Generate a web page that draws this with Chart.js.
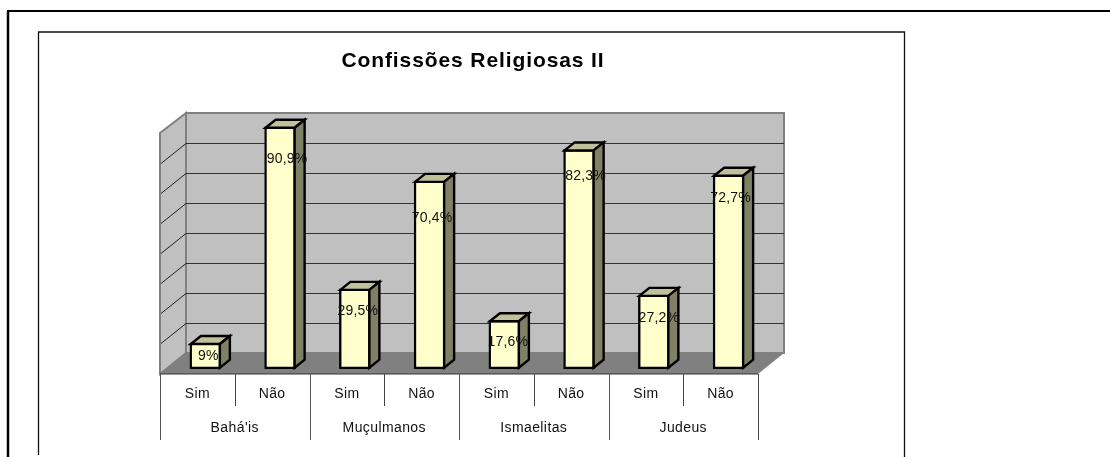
<!DOCTYPE html>
<html lang="pt">
<head>
<meta charset="utf-8">
<title>Confissões Religiosas II</title>
<script src="https://cdn.jsdelivr.net/npm/chart.js@4"></script>
<style>
    html, body { margin: 0; padding: 0; background: #fff; }
    #wrap { position: relative; width: 1110px; height: 457px; overflow: hidden; }
</style>
</head>
<body>
<div id="wrap"><canvas id="religioesChart" width="1110" height="457"></canvas></div>
<script>
// Dados do gráfico
const tituloGrafico = 'Confissões Religiosas II';
const grupos = ["Bahá'is", 'Muçulmanos', 'Ismaelitas', 'Judeus'];
const respostas = ['Sim', 'Não', 'Sim', 'Não', 'Sim', 'Não', 'Sim', 'Não'];
const percentuais = [9, 90.9, 29.5, 70.4, 17.6, 82.3, 27.2, 72.7];
const rotulos = ['9%', '90,9%', '29,5%', '70,4%', '17,6%', '82,3%', '27,2%', '72,7%'];
const linhasParede = [0, 1, 2, 3, 4, 5, 6, 7, 8];

// Estilo e posição (não são dados)
const passoParede = 11.36;      // % por intervalo da parede
const barraProf = { x: 10, y: 8 };
const paredeProf = { x: 26, y: 21 };
const rotuloDesvio = [[3, 13], [7, 32], [3, 22], [2.5, 37], [3.5, 22], [6.5, 27], [5, 23], [2, 23]];
const FONTE = '"Liberation Sans", Arial, sans-serif';

function linha(ctx, x1, y1, x2, y2, cor, largura) {
    ctx.strokeStyle = cor;
    ctx.lineWidth = largura;
    ctx.beginPath();
    ctx.moveTo(x1, y1);
    ctx.lineTo(x2, y2);
    ctx.stroke();
}

function poligono(ctx, pontos, fundo, cor, largura) {
    ctx.beginPath();
    pontos.forEach((p, i) => i ? ctx.lineTo(p[0], p[1]) : ctx.moveTo(p[0], p[1]));
    ctx.closePath();
    ctx.fillStyle = fundo;
    ctx.fill();
    if (cor) {
        ctx.strokeStyle = cor;
        ctx.lineWidth = largura;
        ctx.lineJoin = 'miter';
        ctx.stroke();
    }
}

function texto(ctx, str, x, y, fonte, espaco, cor) {
    ctx.font = fonte;
    ctx.letterSpacing = espaco + 'px';
    ctx.fillStyle = cor;
    ctx.textAlign = 'center';
    ctx.textBaseline = 'middle';
    ctx.fillText(str, x, y);
    ctx.letterSpacing = '0px';
}

// Molduras, título, paredes e chão
const cenario = {
    id: 'cenario',
    beforeDatasetsDraw(chart) {
        const { ctx, scales: { x, y } } = chart;
        ctx.save();
        // moldura exterior
        linha(ctx, 8, 11, 8, 457, '#000', 2.5);
        linha(ctx, 7, 11, 1110, 11, '#000', 2);
        // moldura do gráfico
        ctx.strokeStyle = '#111';
        ctx.lineWidth = 1.3;
        ctx.beginPath();
        ctx.moveTo(38.5, 455);
        ctx.lineTo(38.5, 32);
        ctx.lineTo(904.5, 32);
        ctx.lineTo(904.5, 457);
        ctx.stroke();

        texto(ctx, tituloGrafico, 473, 61, 'bold 21px ' + FONTE, 0.9, '#000');

        const zero = y.getPixelForValue(0);
        const esq = x.left - 8;
        const dir = x.right - 8;
        const base = Math.round(zero + 7.3);
        const fundoBase = base - paredeProf.y;
        const paredeY = k => Math.round(zero - 13.7 - (y.getPixelForValue(0) - y.getPixelForValue(k * passoParede)));
        const topo = paredeY(linhasParede[8]);

        // parede de fundo e parede lateral
        poligono(ctx, [[esq + paredeProf.x, topo], [dir + paredeProf.x, topo], [dir + paredeProf.x, fundoBase], [esq + paredeProf.x, fundoBase]], '#c0c0c0', '#808080', 2);
        poligono(ctx, [[esq, topo + 20], [esq + paredeProf.x, topo], [esq + paredeProf.x, fundoBase], [esq, base]], '#c0c0c0', '#808080', 2);

        // linhas de grade
        linhasParede.slice(1, 8).forEach(k => {
            const py = paredeY(k) + 0.5;
            linha(ctx, esq + paredeProf.x, py, dir + paredeProf.x, py, '#333', 1);
            linha(ctx, esq + paredeProf.x, py, esq + 1, py + 20, '#222', 1);
        });

        // chão
        poligono(ctx, [[esq, base], [esq + paredeProf.x, fundoBase], [dir + paredeProf.x, fundoBase], [dir, base]], '#808080');
        linha(ctx, esq, base, dir, base, '#333', 1);

        // tabela de categorias
        const passo = (dir - esq) / respostas.length;
        respostas.forEach((r, i) => {
            const cx = x.getPixelForValue(i) - 8;
            texto(ctx, r, cx, 394, '14px ' + FONTE, 0.3, '#111');
            if (i % 2) {
                const xi = Math.round(cx + passo / 2 - passo) + 0.5;
                linha(ctx, xi, base, xi, 406, '#444', 1);
            }
        });
        grupos.forEach((g, i) => {
            const gx = esq + passo * (2 * i + 1);
            texto(ctx, g, gx, 428, '14px ' + FONTE, 0.4, '#111');
            const xi = Math.round(esq + passo * 2 * i) + 0.5;
            linha(ctx, xi, base, xi, 440, '#555', 1);
        });
        linha(ctx, Math.round(dir) + 0.5, base, Math.round(dir) + 0.5, 440, '#444', 1);
        ctx.restore();
    }
};

// Faces 3D das barras e rótulos
const barras3d = {
    id: 'barras3d',
    afterDatasetsDraw(chart) {
        const { ctx } = chart;
        const meta = chart.getDatasetMeta(0);
        ctx.save();
        meta.data.forEach(bar => {
            const esq = bar.x - bar.width / 2 + 1;
            const dir = bar.x + bar.width / 2 - 1;
            const topo = bar.y + 1;
            const base = bar.base - 1;
            const dx = barraProf.x;
            const dy = barraProf.y;
            poligono(ctx, [[esq, topo], [esq + dx, topo - dy], [dir + dx, topo - dy], [dir, topo]], '#c0c09a', '#000', 2.4);
            poligono(ctx, [[dir, topo], [dir + dx, topo - dy], [dir + dx, base - dy], [dir, base]], '#808066', '#000', 2.4);
        });
        meta.data.forEach((bar, i) => {
            texto(ctx, rotulos[i], bar.x + rotuloDesvio[i][0], bar.y + rotuloDesvio[i][1], '14px ' + FONTE, 0.2, '#111');
        });
        ctx.restore();
    }
};

new Chart(document.getElementById('religioesChart').getContext('2d'), {
    type: 'bar',
    data: {
        labels: respostas,
        datasets: [{
            data: percentuais,
            base: -0.76,
            backgroundColor: '#ffffcc',
            borderColor: '#000',
            borderWidth: 2.4,
            borderSkipped: false,
            barThickness: 31
        }]
    },
    options: {
        responsive: false,
        animation: false,
        events: [],
        layout: { padding: { left: 168, right: 344, top: 102.7, bottom: 85 } },
        plugins: {
            legend: { display: false },
            title: { display: false },
            tooltip: { enabled: false }
        },
        scales: {
            x: { display: false },
            y: { display: false, min: -2, max: 100 }
        }
    },
    plugins: [cenario, barras3d]
});
</script>
</body>
</html>
